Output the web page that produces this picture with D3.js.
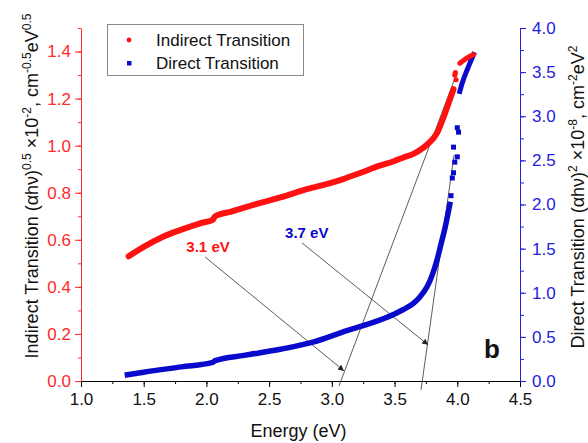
<!DOCTYPE html>
<html>
<head>
<meta charset="utf-8">
<title>band gap tauc plot</title>
<script src="https://d3js.org/d3.v7.min.js"></script>
<style>
  body { margin: 0; background: #fff; }
  text { font-family: Arial, "Liberation Sans", sans-serif; }
</style>
</head>
<body>
<svg width="588" height="443"></svg>
<script>
// Indirect transition (left axis)
var indirectE = [1.38, 1.5, 1.65, 1.8, 1.95, 2.05, 2.07, 2.2, 2.43, 2.59, 2.8, 3.0, 3.09, 3.23, 3.38, 3.5, 3.57, 3.65, 3.70, 3.76, 3.84, 3.89, 3.94, 3.97];
var indirectV = [0.53, 0.57, 0.612, 0.643, 0.67, 0.685, 0.70, 0.72, 0.757, 0.78, 0.815, 0.843, 0.858, 0.885, 0.915, 0.935, 0.95, 0.965, 0.98, 1.005, 1.055, 1.12, 1.195, 1.24];
var indirectScatterE = [3.98, 3.99, 3.985];
var indirectScatterV = [1.30, 1.28, 1.31];
var indirectTopE = [4.02, 4.07, 4.13];
var indirectTopV = [1.35, 1.37, 1.387];

// Direct transition (right axis)
var directE = [1.37, 1.5, 1.8, 2.05, 2.07, 2.3, 2.59, 2.85, 3.12, 3.30, 3.38, 3.50, 3.57, 3.65, 3.70, 3.76, 3.80, 3.84, 3.87, 3.90, 3.94];
var directV = [0.07, 0.10, 0.16, 0.21, 0.23, 0.29, 0.36, 0.44, 0.57, 0.65, 0.69, 0.76, 0.81, 0.88, 0.95, 1.07, 1.2, 1.38, 1.55, 1.72, 2.0];
var directScatterE = [3.95, 3.96, 3.97, 3.98, 4.00, 3.97, 4.01, 4.00];
var directScatterV = [2.10, 2.30, 2.36, 2.48, 2.54, 2.65, 2.82, 2.87];
var directTopE = [4.02, 4.04, 4.08, 4.13];
var directTopV = [3.28, 3.38, 3.53, 3.70];

// tick labels
var xTicks = [1.0, 1.5, 2.0, 2.5, 3.0, 3.5, 4.0, 4.5];
var leftTicks = [0.0, 0.2, 0.4, 0.6, 0.8, 1.0, 1.2, 1.4];
var rightTicks = [0.0, 0.5, 1.0, 1.5, 2.0, 2.5, 3.0, 3.5, 4.0];

// tangent lines [E0, v0, E1, v1] and arrows [E0, v0, E1, v1]
var tangentIndirect = [3.057, -0.021, 3.998, 1.31];
var tangentDirect = [3.711, -0.10, 3.974, 2.56];
var arrowIndirect = [1.989, 0.527, 3.097, 0.043];
var arrowDirect = [2.762, 1.565, 3.767, 0.41];

var red = "#ff1111", blue = "#0a0acc";
var redAxis = "#ff2a2a", blueAxis = "#2222dd";

var svg = d3.select("svg");
var plotLeft = 81, plotRight = 520, plotTop = 28, plotBottom = 381;

var x = d3.scaleLinear().domain([1.0, 4.5]).range([plotLeft, plotRight]);
var yL = d3.scaleLinear().domain([0, 1.5]).range([plotBottom, plotTop]);
var yR = d3.scaleLinear().domain([0, 4.0]).range([plotBottom, plotTop]);

// bottom axis
var xMinor = d3.range(1.0, 4.51, 0.25);
svg.append("g").attr("transform", "translate(0," + plotBottom + ")")
  .call(d3.axisBottom(x).tickValues(xMinor).tickSize(3).tickFormat("").tickSizeOuter(0))
  .call(function(g) { g.select(".domain").remove(); });
var gx = svg.append("g").attr("transform", "translate(0," + plotBottom + ")")
  .call(d3.axisBottom(x).tickValues(xTicks).tickSize(6).tickPadding(6).tickFormat(d3.format(".1f")).tickSizeOuter(0));
gx.selectAll("text").attr("font-size", 17).attr("fill", "#111").style("font-family", "Arial, 'Liberation Sans'");

// left axis
svg.append("g").attr("transform", "translate(" + plotLeft + ",0)")
  .call(d3.axisLeft(yL).tickValues(d3.range(0, 1.51, 0.1)).tickSize(3).tickFormat("").tickSizeOuter(0))
  .call(function(g) { g.select(".domain").remove(); g.selectAll("line").attr("stroke", redAxis); });
var gl = svg.append("g").attr("transform", "translate(" + plotLeft + ",0)")
  .call(d3.axisLeft(yL).tickValues(leftTicks).tickSize(6).tickPadding(4).tickFormat(d3.format(".1f")).tickSizeOuter(0));
gl.select(".domain").attr("stroke", redAxis);
gl.selectAll("line").attr("stroke", redAxis);
gl.selectAll("text").attr("font-size", 17).attr("fill", redAxis).style("font-family", "Arial, 'Liberation Sans'");

// right axis
svg.append("g").attr("transform", "translate(" + plotRight + ",0)")
  .call(d3.axisRight(yR).tickValues(d3.range(0, 4.01, 0.25)).tickSize(4).tickFormat("").tickSizeOuter(0))
  .call(function(g) { g.select(".domain").remove(); g.selectAll("line").attr("stroke", blueAxis); });
var gr = svg.append("g").attr("transform", "translate(" + plotRight + ",0)")
  .call(d3.axisRight(yR).tickValues(rightTicks).tickSize(6).tickPadding(6).tickFormat(d3.format(".1f")).tickSizeOuter(0));
gr.select(".domain").attr("stroke", blueAxis);
gr.selectAll("line").attr("stroke", blueAxis);
gr.selectAll("text").attr("font-size", 17).attr("fill", blueAxis).style("font-family", "Arial, 'Liberation Sans'");

// axis titles
svg.append("text").attr("x", (plotLeft + plotRight) / 2 - 2).attr("y", 437)
  .attr("text-anchor", "middle").attr("font-size", 18).attr("fill", "#111").text("Energy (eV)");

function richTitle(parts, tx, ty) {
  var t = svg.append("text")
    .attr("transform", "translate(" + tx + "," + ty + ") rotate(-90)")
    .attr("text-anchor", "middle").attr("font-size", 18).attr("fill", "#111");
  parts.forEach(function(p) {
    var s = t.append("tspan").text(p[0]);
    if (p[1]) s.attr("font-size", 12).attr("baseline-shift", "super");
  });
}
richTitle([["Indirect Transition (\u03b1h\u03bd)"], ["0.5", 1], [" \u00d710"], ["-2", 1], [", cm"], ["-0.5", 1], ["eV"], ["0.5", 1]], 38, 186);
richTitle([["Direct Transition (\u03b1h\u03bd)"], ["2", 1], [" \u00d710"], ["-8", 1], [", cm"], ["-2", 1], ["eV"], ["2", 1]], 584, 197);

// tangent lines
function seg(a, ys) {
  return [[x(a[0]), ys(a[1])], [x(a[2]), ys(a[3])]];
}
[[tangentIndirect, yL], [tangentDirect, yR]].forEach(function(t) {
  var p = seg(t[0], t[1]);
  svg.append("line").attr("x1", p[0][0]).attr("y1", p[0][1]).attr("x2", p[1][0]).attr("y2", p[1][1])
    .attr("stroke", "#333").attr("stroke-width", 0.8);
});

// arrows
svg.append("defs").append("marker").attr("id", "head")
  .attr("viewBox", "0 0 10 10").attr("refX", 10).attr("refY", 5)
  .attr("markerWidth", 9).attr("markerHeight", 6).attr("markerUnits", "userSpaceOnUse")
  .attr("orient", "auto")
  .append("path").attr("d", "M0,0 L10,5 L0,10 Z").attr("fill", "#222");
[[arrowIndirect, yL], [arrowDirect, yR]].forEach(function(t) {
  var p = seg(t[0], t[1]);
  svg.append("line").attr("x1", p[0][0]).attr("y1", p[0][1]).attr("x2", p[1][0]).attr("y2", p[1][1])
    .attr("stroke", "#333").attr("stroke-width", 0.8).attr("marker-end", "url(#head)");
});

// data curves
function zip(a, b) { return a.map(function(d, i) { return [d, b[i]]; }); }
var lineL = d3.line().curve(d3.curveMonotoneX).x(function(d) { return x(d[0]); }).y(function(d) { return yL(d[1]); });
var lineR = d3.line().curve(d3.curveMonotoneX).x(function(d) { return x(d[0]); }).y(function(d) { return yR(d[1]); });

svg.append("path").attr("d", lineR(zip(directE, directV)))
  .attr("fill", "none").attr("stroke", blue).attr("stroke-width", 5.5)
  .attr("stroke-linecap", "square").attr("stroke-linejoin", "round");
svg.append("path").attr("d", lineR(zip(directTopE, directTopV)))
  .attr("fill", "none").attr("stroke", blue).attr("stroke-width", 5).attr("stroke-linecap", "square");
svg.selectAll(".dsq").data(zip(directScatterE, directScatterV)).enter().append("rect")
  .attr("x", function(d) { return x(d[0]) - 2.5; }).attr("y", function(d) { return yR(d[1]) - 2.5; })
  .attr("width", 5).attr("height", 5).attr("fill", blue);

svg.append("path").attr("d", lineL(zip(indirectE, indirectV)))
  .attr("fill", "none").attr("stroke", red).attr("stroke-width", 6)
  .attr("stroke-linecap", "round").attr("stroke-linejoin", "round");
svg.append("path").attr("d", lineL(zip(indirectTopE, indirectTopV)))
  .attr("fill", "none").attr("stroke", red).attr("stroke-width", 5).attr("stroke-linecap", "round");
svg.selectAll(".idot").data(zip(indirectScatterE, indirectScatterV)).enter().append("circle")
  .attr("cx", function(d) { return x(d[0]); }).attr("cy", function(d) { return yL(d[1]); })
  .attr("r", 2.6).attr("fill", red);

// annotations
svg.append("text").attr("x", x(2.013)).attr("y", yL(0.549)).attr("text-anchor", "middle")
  .attr("font-size", 15).attr("font-weight", "bold").attr("fill", red).text("3.1 eV");
svg.append("text").attr("x", x(2.80)).attr("y", yR(1.62)).attr("text-anchor", "middle")
  .attr("font-size", 15).attr("font-weight", "bold").attr("fill", blue).text("3.7 eV");
svg.append("text").attr("x", x(4.277)).attr("y", yL(0.098)).attr("text-anchor", "middle")
  .attr("font-size", 26).attr("font-weight", "bold").attr("fill", "#111").text("b");

// legend
var lg = svg.append("g");
lg.append("rect").attr("x", 107.5).attr("y", 24.5).attr("width", 196).attr("height", 51)
  .attr("fill", "#fff").attr("stroke", "#888").attr("stroke-width", 1);
lg.append("circle").attr("cx", 129).attr("cy", 40).attr("r", 2.4).attr("fill", red);
lg.append("rect").attr("x", 127).attr("y", 61).attr("width", 4.5).attr("height", 4.5).attr("fill", blue);
lg.append("text").attr("x", 156).attr("y", 46).attr("font-size", 17).attr("fill", "#111").text("Indirect Transition");
lg.append("text").attr("x", 156).attr("y", 68.5).attr("font-size", 17).attr("fill", "#111").text("Direct Transition");
</script>
</body>
</html>
